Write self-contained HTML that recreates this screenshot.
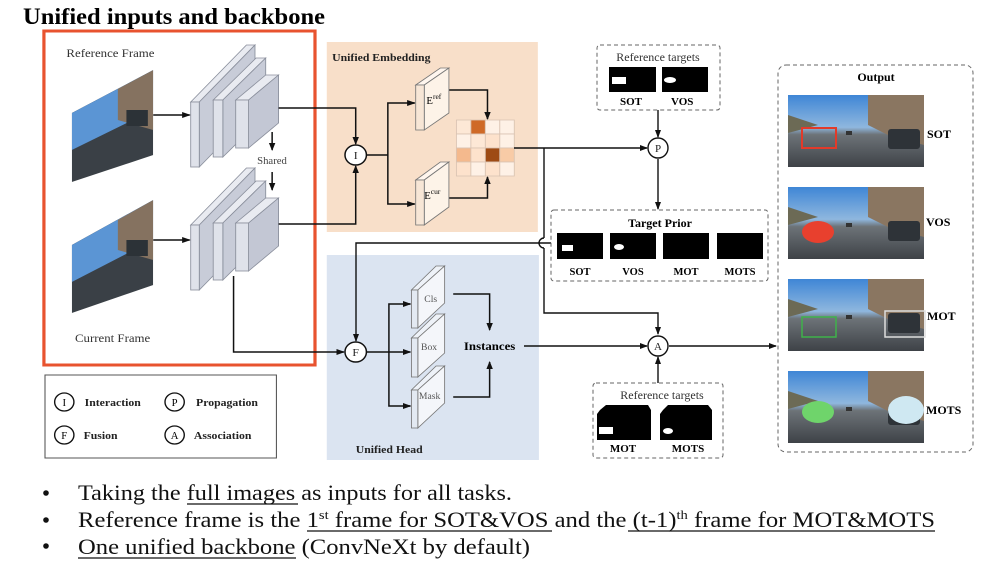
<!DOCTYPE html>
<html><head><meta charset="utf-8"><style>
html,body{margin:0;padding:0;background:#fff}
svg{display:block}
text{font-family:"Liberation Serif",serif}
.b{font-weight:bold}
</style></head><body>
<svg width="984" height="568" viewBox="0 0 984 568" xmlns="http://www.w3.org/2000/svg">
<defs>
<marker id="ar" markerWidth="8" markerHeight="8" refX="7" refY="4" orient="auto" markerUnits="userSpaceOnUse"><path d="M0,1 L8,4 L0,7z" fill="#111"/></marker>
<linearGradient id="road" x1="0" y1="0" x2="0" y2="1">
<stop offset="0" stop-color="#3f86d6"/><stop offset="0.45" stop-color="#8fb7de"/><stop offset="0.55" stop-color="#6d7378"/><stop offset="1" stop-color="#3e4247"/></linearGradient>
<g id="scene">
<rect x="0" y="0" width="136" height="72" fill="url(#road)"/>
<polygon points="80,0 136,0 136,50 100,40 80,30" fill="#8a7661"/>
<polygon points="0,20 30,30 0,38" fill="#6c6a55"/>
<rect x="100" y="34" width="32" height="20" rx="3" fill="#2e3338"/>
<rect x="58" y="36" width="6" height="4" fill="#333"/>
</g>
</defs>
<text x="23" y="24" font-size="23" class="b" textLength="302" lengthAdjust="spacingAndGlyphs">Unified inputs and backbone</text>

<g transform="scale(1.0714,1)">
<rect x="305" y="42" width="197" height="190" fill="#f8dfc9"/>
<text x="310" y="61" font-size="11" class="b" fill="#222">Unified Embedding</text>
<rect x="305" y="255" width="198" height="205" fill="#dbe4f1"/>
<text x="332" y="453" font-size="11" class="b" fill="#222">Unified Head</text>

<rect x="41" y="31" width="253" height="334" fill="none" stroke="#e8532f" stroke-width="3"/>
<text x="62" y="57" font-size="12" fill="#333">Reference Frame</text>
<text x="70" y="342" font-size="12" fill="#333">Current Frame</text>

<clipPath id="c1"><polygon points="67,113 143,70 143,155 67,182"/></clipPath>
<g clip-path="url(#c1)"><rect x="67" y="70" width="76" height="112" fill="#3a4046"/><polygon points="67,113 143,70 143,110 67,150" fill="#5b95d4"/><polygon points="110,89 143,70 143,130 110,120" fill="#857260"/><rect x="118" y="110" width="20" height="16" fill="#2c3237"/></g>
<clipPath id="c2"><polygon points="67,245 143,200 143,285 67,313"/></clipPath>
<g clip-path="url(#c2)"><rect x="67" y="200" width="76" height="113" fill="#3a4046"/><polygon points="67,245 143,200 143,240 67,282" fill="#5b95d4"/><polygon points="110,220 143,200 143,260 110,250" fill="#857260"/><rect x="118" y="240" width="20" height="16" fill="#2c3237"/></g>

<g stroke="#8a8f9c" stroke-width="0.8">
<g id="bb">
<polygon points="178,102 230,45 238,45 186,102" fill="#e9ebf1"/><polygon points="186,102 238,45 238,110 186,167" fill="#c8ccd8"/><rect x="178" y="102" width="8" height="65" fill="#dfe2ea"/>
<polygon points="199,100 239,58 248,58 208,100" fill="#e9ebf1"/><polygon points="208,100 248,58 248,115 208,157" fill="#c8ccd8"/><rect x="199" y="100" width="9" height="57" fill="#dfe2ea"/>
<polygon points="220,100 248,75 260,75 232,100" fill="#e9ebf1"/><polygon points="232,100 260,75 260,123 232,148" fill="#c3c7d4"/><rect x="220" y="100" width="12" height="48" fill="#dfe2ea"/>
</g>
<use href="#bb" transform="translate(0,123)"/>
</g>

<g stroke="#111" stroke-width="1.4" fill="none">
<line x1="143" y1="115" x2="177" y2="115" marker-end="url(#ar)"/>
<line x1="143" y1="240" x2="177" y2="240" marker-end="url(#ar)"/>
<line x1="254" y1="132" x2="254" y2="150" marker-end="url(#ar)"/>
<line x1="254" y1="172" x2="254" y2="190" marker-end="url(#ar)"/>
<polyline points="260,108 332,108 332,144" marker-end="url(#ar)"/>
<polyline points="260,224 332,224 332,166" marker-end="url(#ar)"/>
<polyline points="218,276 218,352 321,352" marker-end="url(#ar)"/>
<line x1="342" y1="155" x2="362" y2="155"/>
<polyline points="387,103 362,103 362,204 387,204"/>
<line x1="380" y1="103" x2="387" y2="103" marker-end="url(#ar)"/>
<line x1="380" y1="204" x2="387" y2="204" marker-end="url(#ar)"/>
<polyline points="419,90 455,90 455,119" marker-end="url(#ar)"/>
<polyline points="419,198 455,198 455,177" marker-end="url(#ar)"/>
<line x1="342" y1="352" x2="363" y2="352"/>
<polyline points="383,304 363,304 363,406 383,406"/>
<line x1="376" y1="304" x2="383" y2="304" marker-end="url(#ar)"/>
<line x1="363" y1="352" x2="383" y2="352" marker-end="url(#ar)"/>
<line x1="376" y1="406" x2="383" y2="406" marker-end="url(#ar)"/>
<polyline points="423,294 457,294 457,330" marker-end="url(#ar)"/>
<polyline points="423,397 457,397 457,362" marker-end="url(#ar)"/>
</g>

<g stroke="#111" stroke-width="1.4" fill="#fff">
<circle cx="332" cy="155" r="10"/><circle cx="332" cy="352" r="10"/>
</g>
<g font-size="11" text-anchor="middle" fill="#222">
<text x="332" y="159">I</text><text x="332" y="356">F</text>
</g>

<g stroke="#777" stroke-width="0.8">
<polygon points="388,85 411,68 419,68 396,85" fill="#fff6ee"/><polygon points="396,85 419,68 419,113 396,130" fill="#fdf3e8"/><rect x="388" y="85" width="8" height="45" fill="#f7e6d6"/>
<polygon points="388,180 411,162 419,162 396,180" fill="#fff6ee"/><polygon points="396,180 419,162 419,207 396,225" fill="#fdf3e8"/><rect x="388" y="180" width="8" height="45" fill="#f7e6d6"/>
<polygon points="384,290 407,266 415,266 390,290" fill="#eef2f8"/><polygon points="390,290 415,266 415,303 390,328" fill="#f4f6fa"/><rect x="384" y="290" width="6" height="38" fill="#e3e9f2"/>
<polygon points="384,338 407,314 415,314 390,338" fill="#eef2f8"/><polygon points="390,338 415,314 415,353 390,377" fill="#f4f6fa"/><rect x="384" y="338" width="6" height="39" fill="#e3e9f2"/>
<polygon points="384,390 407,366 415,366 390,390" fill="#eef2f8"/><polygon points="390,390 415,366 415,403 390,428" fill="#f4f6fa"/><rect x="384" y="390" width="6" height="38" fill="#e3e9f2"/>
</g>
<text x="398" y="104" font-size="10">E<tspan font-size="7" dy="-5">ref</tspan></text>
<text x="396" y="199" font-size="10">E<tspan font-size="7" dy="-5">cur</tspan></text>
<g font-size="9" fill="#555"><text x="396" y="302">Cls</text><text x="393" y="350">Box</text><text x="391" y="399">Mask</text></g>
<text x="457" y="350" font-size="12" class="b" text-anchor="middle">Instances</text>
<text x="240" y="164" font-size="10" fill="#444">Shared</text>

<g stroke="#d9c3b2" stroke-width="0.8">
<rect x="426" y="120" width="13.5" height="14" fill="#fde8d6"/><rect x="439.5" y="120" width="13.5" height="14" fill="#cf6a27"/><rect x="453" y="120" width="13.5" height="14" fill="#fef1e6"/><rect x="466.5" y="120" width="13.5" height="14" fill="#fef1e6"/>
<rect x="426" y="134" width="13.5" height="14" fill="#fef1e6"/><rect x="439.5" y="134" width="13.5" height="14" fill="#fde8d6"/><rect x="453" y="134" width="13.5" height="14" fill="#fde2cc"/><rect x="466.5" y="134" width="13.5" height="14" fill="#fef1e6"/>
<rect x="426" y="148" width="13.5" height="14" fill="#f4b98d"/><rect x="439.5" y="148" width="13.5" height="14" fill="#fde2cc"/><rect x="453" y="148" width="13.5" height="14" fill="#9e4b14"/><rect x="466.5" y="148" width="13.5" height="14" fill="#f8cba6"/>
<rect x="426" y="162" width="13.5" height="14" fill="#fde2cc"/><rect x="439.5" y="162" width="13.5" height="14" fill="#fef1e6"/><rect x="453" y="162" width="13.5" height="14" fill="#fde2cc"/><rect x="466.5" y="162" width="13.5" height="14" fill="#fef1e6"/>
</g>

<rect x="42" y="375" width="216" height="83" fill="#fff" stroke="#555" stroke-width="1"/>
<g stroke="#111" stroke-width="1.3" fill="#fff"><circle cx="60" cy="402" r="9"/><circle cx="163" cy="402" r="9"/><circle cx="60" cy="435" r="9"/><circle cx="163" cy="435" r="9"/></g>
<g font-size="10" text-anchor="middle"><text x="60" y="406">I</text><text x="163" y="406">P</text><text x="60" y="439">F</text><text x="163" y="439">A</text></g>
<g font-size="11" class="b" fill="#222"><text x="79" y="406">Interaction</text><text x="183" y="406">Propagation</text><text x="78" y="439">Fusion</text><text x="181" y="439">Association</text></g>
</g>

<g stroke="#111" stroke-width="1.4" fill="none">
<line x1="514" y1="148" x2="647" y2="148" marker-end="url(#ar)"/>
<polyline points="544,148 544,238"/>
<path d="M544,238 A5,5 0 0 0 544,248"/>
<polyline points="544,248 544,313 658,313 658,334" marker-end="url(#ar)"/>
<polyline points="551,243 356,243 356,341" marker-end="url(#ar)"/>
<line x1="524" y1="346" x2="647" y2="346" marker-end="url(#ar)"/>
<line x1="669" y1="346" x2="776" y2="346" marker-end="url(#ar)"/>
<line x1="658" y1="110" x2="658" y2="137" marker-end="url(#ar)"/>
<line x1="658" y1="159" x2="658" y2="209" marker-end="url(#ar)"/>
<line x1="658" y1="383" x2="658" y2="357" marker-end="url(#ar)"/>
</g>
<g stroke="#111" stroke-width="1.4" fill="#fff">
<circle cx="658" cy="148" r="10"/><circle cx="658" cy="346" r="10"/>
</g>
<g font-size="11" text-anchor="middle" fill="#222">
<text x="658" y="152">P</text><text x="658" y="350">A</text>
</g>

<g fill="none" stroke="#666" stroke-dasharray="4,3" stroke-width="1">
<rect x="597" y="45" width="123" height="65" rx="3"/>
<rect x="551" y="210" width="217" height="71" rx="3"/>
<rect x="593" y="383" width="130" height="75" rx="3"/>
<rect x="778" y="65" width="195" height="387" rx="8"/>
</g>
<text x="658" y="61" font-size="12" text-anchor="middle" fill="#333">Reference targets</text>
<rect x="609" y="67" width="47" height="25" fill="#000"/><rect x="612" y="77" width="14" height="7" fill="#fff"/>
<rect x="662" y="67" width="46" height="25" fill="#000"/><ellipse cx="670" cy="80" rx="6" ry="3" fill="#fff"/>
<g font-size="11" class="b"><text x="620" y="105">SOT</text><text x="671" y="105">VOS</text></g>

<text x="660" y="227" font-size="12" class="b" text-anchor="middle">Target Prior</text>
<rect x="557" y="233" width="46" height="26" fill="#000"/><rect x="562" y="245" width="11" height="6" fill="#fff"/>
<rect x="610" y="233" width="46" height="26" fill="#000"/><ellipse cx="619" cy="247" rx="5" ry="3" fill="#fff"/>
<rect x="663" y="233" width="46" height="26" fill="#000"/>
<rect x="717" y="233" width="46" height="26" fill="#000"/>
<g font-size="10.5" class="b" text-anchor="middle"><text x="580" y="275">SOT</text><text x="633" y="275">VOS</text><text x="686" y="275">MOT</text><text x="740" y="275">MOTS</text></g>

<text x="662" y="399" font-size="12" text-anchor="middle" fill="#333">Reference targets</text>
<polygon points="600,410 606,405 648,405 651,410 651,440 597,440 597,414" fill="#000"/><rect x="599" y="427" width="14" height="7" fill="#fff"/>
<polygon points="663,410 668,405 708,405 712,410 712,440 660,440 660,414" fill="#000"/><ellipse cx="668" cy="431" rx="5" ry="3" fill="#fff"/>
<g font-size="11" class="b" text-anchor="middle"><text x="623" y="452">MOT</text><text x="688" y="452">MOTS</text></g>

<text x="876" y="81" font-size="12" class="b" text-anchor="middle">Output</text>
<use href="#scene" x="788" y="95"/>
<use href="#scene" x="788" y="187"/>
<use href="#scene" x="788" y="279"/>
<use href="#scene" x="788" y="371"/>
<rect x="802" y="128" width="34" height="20" fill="none" stroke="#e23a2a" stroke-width="2"/>
<ellipse cx="818" cy="232" rx="16" ry="11" fill="#e8402e"/>
<rect x="802" y="317" width="34" height="20" fill="none" stroke="#3fb24a" stroke-width="1.5"/>
<rect x="885" y="311" width="40" height="26" fill="none" stroke="#ddd" stroke-width="1.5"/>
<ellipse cx="818" cy="412" rx="16" ry="11" fill="#6fd46b"/>
<ellipse cx="906" cy="410" rx="18" ry="14" fill="#cfe8f2"/>
<g font-size="12" class="b"><text x="927" y="138">SOT</text><text x="926" y="226">VOS</text><text x="927" y="320">MOT</text><text x="926" y="414">MOTS</text></g>

<g font-size="22" fill="#111">
<circle cx="46" cy="493" r="2.8"/><circle cx="46" cy="520" r="2.8"/><circle cx="46" cy="546" r="2.8"/>
<text x="78" y="500" textLength="434" lengthAdjust="spacingAndGlyphs">Taking the full images as inputs for all tasks.</text>
<text x="78" y="527" textLength="857" lengthAdjust="spacingAndGlyphs">Reference frame is the 1<tspan font-size="13" dy="-8">st</tspan><tspan dy="8"> frame for SOT&amp;VOS and the (t-1)</tspan><tspan font-size="13" dy="-8">th</tspan><tspan dy="8"> frame for MOT&amp;MOTS</tspan></text>
<text x="78" y="554" textLength="452" lengthAdjust="spacingAndGlyphs">One unified backbone (ConvNeXt by default)</text>
</g>
<g stroke="#111" stroke-width="1.2"><line x1="187" y1="504" x2="298" y2="504"/><line x1="307" y1="531" x2="552" y2="531"/><line x1="628" y1="531" x2="935" y2="531"/><line x1="78" y1="558" x2="296" y2="558"/></g>
</svg>
</body></html>
